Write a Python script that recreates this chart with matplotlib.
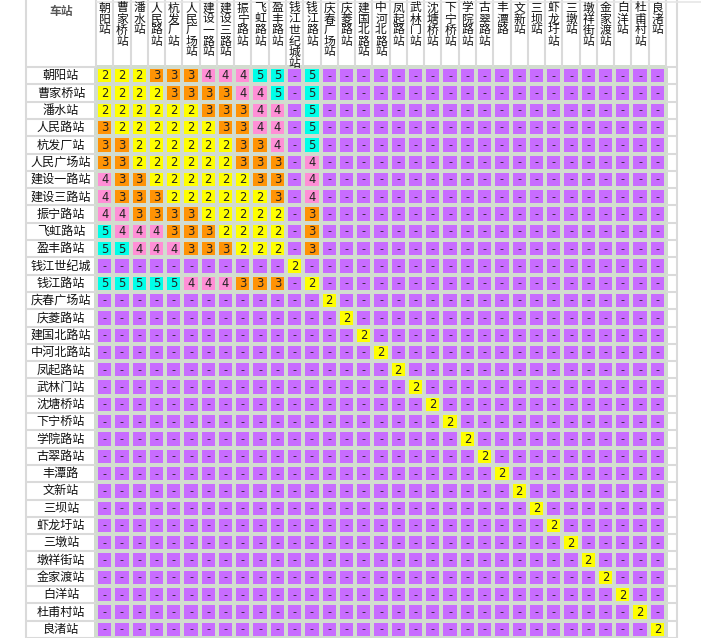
import numpy as np
import matplotlib
matplotlib.use("Agg")
import matplotlib.pyplot as plt
from matplotlib.colors import ListedColormap

plt.rcParams['font.family'] = ['Noto Sans CJK SC', 'DejaVu Sans']

# station names as they appear on the rows and on the header
row_labels = ["朝阳站", "曹家桥站", "潘水站", "人民路站", "杭发厂站", "人民广场站",
              "建设一路站", "建设三路站", "振宁路站", "飞虹路站", "盈丰路站", "钱江世纪城",
              "钱江路站", "庆春广场站", "庆菱路站", "建国北路站", "中河北路站", "凤起路站",
              "武林门站", "沈塘桥站", "下宁桥站", "学院路站", "古翠路站", "丰潭路",
              "文新站", "三坝站", "虾龙圩站", "三墩站", "墩祥街站", "金家渡站",
              "白洋站", "杜甫村站", "良渚站"]
col_labels = ["朝阳站", "曹家桥站", "潘水站", "人民路站", "杭发厂站", "人民广场站",
              "建设一路站", "建设三路站", "振宁路站", "飞虹路站", "盈丰路站", "钱江世纪城站",
              "钱江路站", "庆春广场站", "庆菱路站", "建国北路站", "中河北路站", "凤起路站",
              "武林门站", "沈塘桥站", "下宁桥站", "学院路站", "古翠路站", "丰潭路",
              "文新站", "三坝站", "虾龙圩站", "三墩站", "墩祥街站", "金家渡站",
              "白洋站", "杜甫村站", "良渚站"]
corner_label = "车站"

# fare (yuan) between stations, "-" = no fare given
fares = [
    "22233344455-5--------------------",
    "22223333445-5--------------------",
    "22222233344-5--------------------",
    "32222223344-5--------------------",
    "33222222334-5--------------------",
    "33222222333-4--------------------",
    "43322222233-4--------------------",
    "43332222223-4--------------------",
    "44333322222-3--------------------",
    "54443332222-3--------------------",
    "55444333222-3--------------------",
    "-----------2---------------------",
    "55555444333-2--------------------",
    "-------------2-------------------",
    "--------------2------------------",
    "---------------2-----------------",
    "----------------2----------------",
    "-----------------2---------------",
    "------------------2--------------",
    "-------------------2-------------",
    "--------------------2------------",
    "---------------------2-----------",
    "----------------------2----------",
    "-----------------------2---------",
    "------------------------2--------",
    "-------------------------2-------",
    "--------------------------2------",
    "---------------------------2-----",
    "----------------------------2----",
    "-----------------------------2---",
    "------------------------------2--",
    "-------------------------------2-",
    "--------------------------------2",
]
for r in fares:
    assert len(r) == 33, (r, len(r))

fare_colors = {"-": "#C86CFF", "2": "#FFFF00", "3": "#FF9305", "4": "#FF8FD6", "5": "#00FFE8"}
codes = ["-", "2", "3", "4", "5"]

n = len(row_labels)
grid = np.array([[codes.index(c) for c in r] for r in fares])

W, H = 701, 638
CW = 570 / 33      # cell width in px
CH = 571 / 33      # cell height in px
x0, y0 = 96, 67    # top-left of the fare cells in px
lab_w = 70 / CW    # width of the label column in cell units
extra_w = 11 / CW  # narrow empty column on the right

fig = plt.figure(figsize=(W / 100, H / 100), dpi=100)
ax = fig.add_axes([0, 0, 1, 1])
ax.set_xlim(-x0 / CW, (W - x0) / CW)
ax.set_ylim((H - y0) / CH, -y0 / CH)
ax.axis("off")

line_c = "#D2DCCF"
gray_c = "#DADADA"

cmap = ListedColormap([fare_colors[c] for c in codes])
ax.pcolormesh(np.arange(n + 1), np.arange(n + 1), grid, cmap=cmap, vmin=-0.5, vmax=4.5,
              edgecolors=line_c, linewidth=1.5)

# table lines for label column, header and the empty column
top = -y0 / CH
ax.hlines(np.arange(n + 1), -lab_w, 0, color=gray_c, lw=1.5)
ax.hlines(np.arange(n + 1), n, n + extra_w, color=gray_c, lw=1.5)
ax.vlines([-lab_w], top, n, color=gray_c, lw=1.5)
ax.vlines(np.arange(n + 1), top, 0, color=gray_c, lw=1.5)
ax.vlines([n + extra_w], top, n, color=gray_c, lw=1.5)
ax.hlines([top + 2 / CH], 0, (W - x0) / CW, color="#E6E6E6", lw=1.2)

# corner header
ax.text(-lab_w / 2, top + 12 / CH, corner_label, ha="center", va="center",
        fontsize=8.5, fontweight="bold", color="#555555")

# row labels
for i, name in enumerate(row_labels):
    ax.text(-lab_w / 2, i + 0.5, name, ha="center", va="center", fontsize=8.7, color="#111111")

# vertical column headers, one character per line
for j, name in enumerate(col_labels):
    ax.text(j + 0.5, top + 1.5 / CH, "\n".join(name), ha="center", va="top",
            fontsize=8.5, color="#111111", linespacing=0.80, multialignment="center")

# fares in the cells
for i, r in enumerate(fares):
    for j, c in enumerate(r):
        if c == "-":
            ax.text(j + 0.5, i + 0.5, "-", ha="center", va="center", fontsize=8,
                    color="#222222", family="DejaVu Sans")
        else:
            ax.text(j + 0.5, i + 0.52, c, ha="center", va="center", fontsize=8.3,
                    color="#222222", family="DejaVu Sans")

fig.savefig("out.png", dpi=100)
